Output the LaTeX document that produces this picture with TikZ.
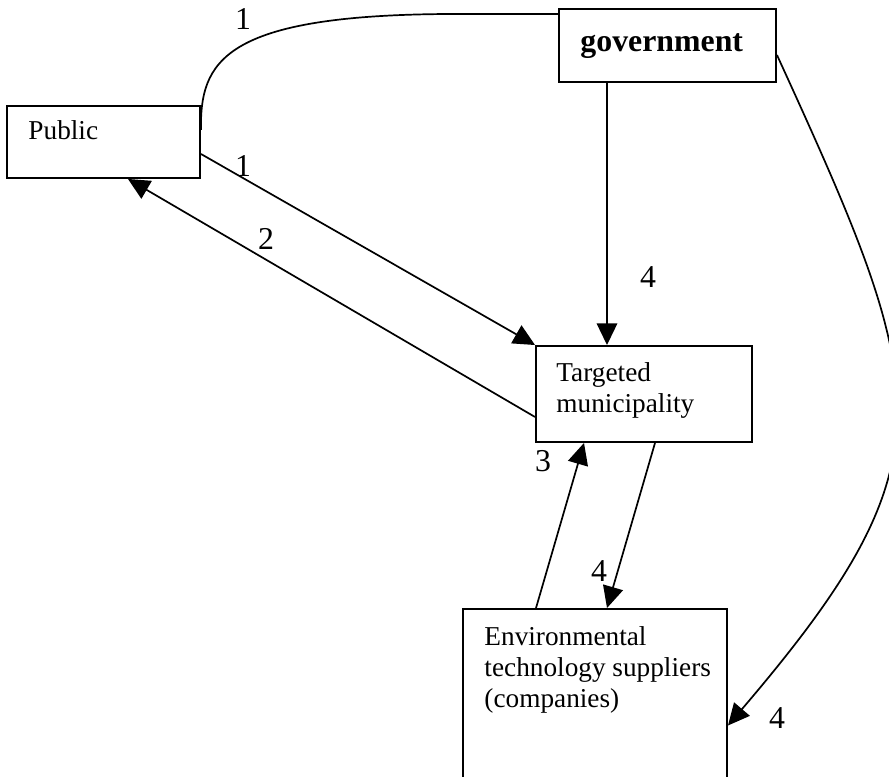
\documentclass[tikz,border=0pt]{standalone}
\usepackage{fontspec}
\setmainfont{Liberation Serif}
\usetikzlibrary{arrows.meta,calc}
\newcommand{\pu}{0.44pt}
\tikzset{
  box/.style={draw, line width=0.85pt, inner sep=0pt},
  txt/.style={inner sep=0pt, align=left, font=\fontsize{12}{13.6}\selectfont},
  num/.style={inner sep=0pt, font=\fontsize{14}{16}\selectfont},
  link/.style={line width=0.75pt},
  arr/.style={line width=0.75pt, -{Triangle[length=9.5pt,width=9pt]}}
}

\begin{document}
\begin{tikzpicture}[x=\pu,y=-\pu]
\useasboundingbox (0,0) rectangle (889,777);
% boxes
\node[box, minimum width=193*\pu, minimum height=72*\pu] (pub) at (103.5,142) {};
\node[box, minimum width=217*\pu, minimum height=73*\pu] (gov) at (667.5,45.5) {};
\node[box, minimum width=216*\pu, minimum height=96*\pu] (tm) at (644,394) {};
\node[box, minimum width=264*\pu, minimum height=181*\pu] (env) at (595,699.5) {};
% box texts
\node[txt, anchor=base west] (pubtxt) at (28,140) {Public};
\node[inner sep=0pt, anchor=base west, font=\fontsize{14}{16}\selectfont\bfseries] (govtxt) at (580,52) {government};
\node[txt, anchor=north west] (tmtxt) at (556,362) {Targeted\\municipality};
\node[txt, anchor=north west] (envtxt) at (484,626) {Environmental\\technology suppliers\\(companies)};
% connectors
\coordinate (tmin) at ($(tm.north)+(-37,0)$);
\draw[link] ($(pub.east)+(0,-12)$) .. controls (200,62) and (222,15) .. (450,14) -- ($(gov.north west)+(0,6)$);
\draw[arr] ($(pub.east)+(0,12)$) -- (tm.north west);
\draw[arr] ($(tm.west)+(0,23)$) -- ($(pub.south)+(24.5,0)$);
\draw[arr] (gov.south -| tmin) -- (tmin);
\draw[arr] ($(env.north)+(-59,0)$) -- ($(tm.south)+(-60,0)$);
\draw[arr] ($(tm.south)+(11,0)$) -- ($(env.north)+(12,0)$);
\draw[arr] ($(gov.east)+(0,9.5)$) .. controls (931,392) and (955.5,459) .. ($(env.east)+(0,26)$);
% labels
\node[num] (n1a) at (243,19) {1};
\node[num] (n1b) at (243,166) {1};
\node[num] (n2) at (266,239) {2};
\node[num] (n4a) at (648,277) {4};
\node[num] (n3) at (543,461) {3};
\node[num] (n4b) at (599,571) {4};
\node[num] (n4c) at (777,718) {4};
\end{tikzpicture}
\end{document}
